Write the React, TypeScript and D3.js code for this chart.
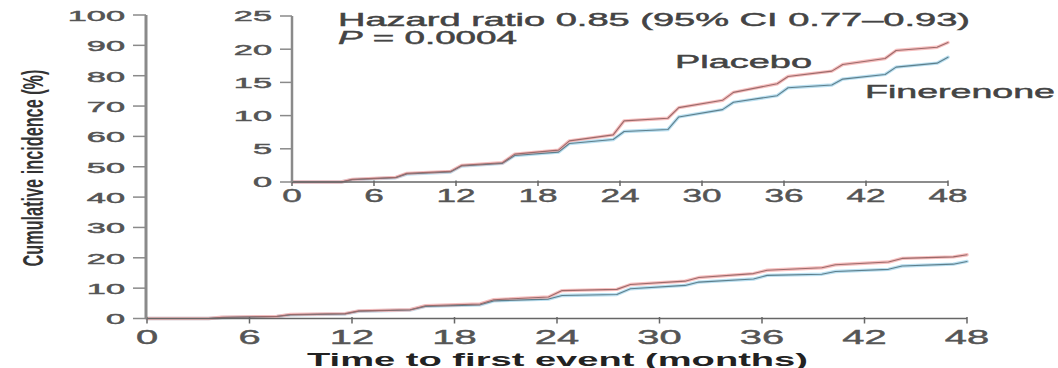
import React from "react";
import * as d3 from "d3";

const monthTicks = [0, 6, 12, 18, 24, 30, 36, 42, 48];
const mainYTicks = [0, 10, 20, 30, 40, 50, 60, 70, 80, 90, 100];
const insetYTicks = [0, 5, 10, 15, 20, 25];

const placeboMonths = [0, 3.6, 4.4, 7.6, 8.4, 11.6, 12.4, 15.4, 16.3, 19.5, 20.3, 23.5, 24.3, 27.5, 28.3, 31.5, 32.3, 35.5, 36.3, 39.5, 40.3, 43.4, 44.2, 47.2, 48];
const placeboValues = [0, 0, 0.4, 0.7, 1.3, 1.6, 2.5, 2.9, 4.2, 4.8, 6.2, 7.1, 9.2, 9.6, 11.2, 12.3, 13.5, 14.8, 15.9, 16.7, 17.7, 18.6, 19.8, 20.3, 21.0];
const finerenoneMonths = [0, 3.6, 4.4, 7.6, 8.4, 11.6, 12.4, 15.4, 16.3, 19.5, 20.3, 23.5, 24.3, 27.5, 28.3, 31.5, 32.3, 35.5, 36.3, 39.5, 40.3, 43.4, 44.2, 47.2, 48];
const finerenoneValues = [0, 0, 0.35, 0.65, 1.2, 1.5, 2.4, 2.8, 4.0, 4.5, 5.8, 6.4, 7.6, 7.9, 9.8, 10.9, 12.0, 13.0, 14.2, 14.6, 15.5, 16.2, 17.3, 17.9, 18.8];

const hazardText = "Hazard ratio 0.85 (95% CI 0.77\u20130.93)";
const pLabel = "P";
const pRest = " = 0.0004";
const placeboLabel = "Placebo";
const finerenoneLabel = "Finerenone";
const xTitle = "Time to first event (months)";
const yTitle = "Cumulative incidence (%)";

const FONT = "'Liberation Sans', Arial, sans-serif";

type Pt = [number, number];
const placeboPts: Pt[] = placeboMonths.map((m, i) => [m, placeboValues[i]]);
const finerenonePts: Pt[] = finerenoneMonths.map((m, i) => [m, finerenoneValues[i]]);

function SText(props: {
  x: number; y: number; sx: number; size: number; anchor?: string;
  fill?: string; weight?: string | number; children: React.ReactNode;
}) {
  const { x, y, sx, size, anchor = "start", fill = "#444", weight = "normal", children } = props;
  return (
    <text
      transform={`translate(${x},${y}) scale(${sx},1)`}
      fontSize={size}
      fontFamily={FONT}
      textAnchor={anchor as any}
      dominantBaseline="central"
      fill={fill}
      stroke={fill}
      strokeWidth={0.45}
      fontWeight={weight as any}
    >
      {children}
    </text>
  );
}

function Lines(props: { x: d3.ScaleLinear<number, number>; y: d3.ScaleLinear<number, number> }) {
  const { x, y } = props;
  const line = d3.line<Pt>().x((d) => x(d[0])).y((d) => y(d[1])).curve(d3.curveLinear);
  return (
    <g fill="none" strokeLinejoin="round" strokeLinecap="round">
      <path d={line(finerenonePts) || ""} stroke="#b3dcee" strokeWidth={3.4} opacity={0.9} />
      <path d={line(placeboPts) || ""} stroke="#f5b8b8" strokeWidth={3.4} opacity={0.9} />
      <path d={line(finerenonePts) || ""} stroke="#5d7f8c" strokeWidth={1.1} />
      <path d={line(placeboPts) || ""} stroke="#9c6a6a" strokeWidth={1.1} />
    </g>
  );
}

export default function App() {
  const W = 1058, H = 368;
  const mx = d3.scaleLinear().domain([0, 48]).range([147, 967]);
  const my = d3.scaleLinear().domain([0, 100]).range([318.5, 15]);
  const ix = d3.scaleLinear().domain([0, 48]).range([292, 948]);
  const iy = d3.scaleLinear().domain([0, 25]).range([182, 16]);

  const axisGray = "#8a8a8a";
  const tickCol = "#555";
  const annoStyle = { stroke: "#444", strokeWidth: 0.45 };

  return (
    <svg
      width={W}
      height={H}
      viewBox={`0 0 ${W} ${H}`}
      style={{ position: "absolute", left: 0, top: 0, background: "#fff" }}
    >
      <rect x={0} y={0} width={W} height={H} fill="#fff" />

      {/* Main chart */}
      <Lines x={mx} y={my} />
      <line x1={mx(0)} x2={mx(48)} y1={my(0)} y2={my(0)} stroke="#666" strokeWidth={1.5} />
      {monthTicks.map((t) => (
        <g key={"mxt" + t}>
          <line x1={mx(t)} x2={mx(t)} y1={my(0) - 1.5} y2={my(0) + 5} stroke="#666" strokeWidth={1.5} />
          <SText x={mx(t)} y={337} sx={1.9} size={21} anchor="middle" fill={tickCol}>{t}</SText>
        </g>
      ))}
      <line x1={mx(0) - 1} x2={mx(0) - 1} y1={my(100)} y2={my(0)} stroke={axisGray} strokeWidth={3} />
      {mainYTicks.map((t) => (
        <g key={"myt" + t}>
          <line x1={133} x2={mx(0) - 1} y1={my(t)} y2={my(t)} stroke={axisGray} strokeWidth={1.5} />
          <SText x={125} y={my(t) + 1} sx={2.45} size={14} anchor="end" fill={tickCol}>{t}</SText>
        </g>
      ))}

      {/* Inset chart */}
      <Lines x={ix} y={iy} />
      <line x1={ix(0)} x2={ix(48)} y1={iy(0)} y2={iy(0)} stroke="#666" strokeWidth={1.5} />
      {monthTicks.map((t) => (
        <g key={"ixt" + t}>
          <line x1={ix(t)} x2={ix(t)} y1={iy(0) - 1.5} y2={iy(0) + 4} stroke="#666" strokeWidth={1.5} />
          <SText x={ix(t)} y={195} sx={1.85} size={19} anchor="middle" fill={tickCol}>{t}</SText>
        </g>
      ))}
      <line x1={ix(0)} x2={ix(0)} y1={iy(25)} y2={iy(0)} stroke={axisGray} strokeWidth={2.5} />
      {insetYTicks.map((t) => (
        <g key={"iyt" + t}>
          <line x1={280} x2={ix(0)} y1={iy(t)} y2={iy(t)} stroke={axisGray} strokeWidth={1.5} />
          <SText x={272} y={iy(t) + 0.5} sx={2.45} size={14} anchor="end" fill={tickCol}>{t}</SText>
        </g>
      ))}

      {/* Annotations */}
      <text x={338} y={20} fontSize={18} fontFamily={FONT} dominantBaseline="central" fill="#444" style={annoStyle}
        textLength={632} lengthAdjust="spacingAndGlyphs">{hazardText}</text>
      <text x={338} y={38} fontSize={18} fontFamily={FONT} dominantBaseline="central" fill="#444" style={annoStyle}
        textLength={179} lengthAdjust="spacingAndGlyphs">
        <tspan fontStyle="italic">{pLabel}</tspan>
        <tspan>{pRest}</tspan>
      </text>
      <text x={675} y={62} fontSize={18} fontFamily={FONT} dominantBaseline="central" fill="#444" style={annoStyle}
        textLength={137} lengthAdjust="spacingAndGlyphs">{placeboLabel}</text>
      <text x={865} y={92} fontSize={18} fontFamily={FONT} dominantBaseline="central" fill="#444" style={annoStyle}
        textLength={190} lengthAdjust="spacingAndGlyphs">{finerenoneLabel}</text>

      {/* Axis titles */}
      <text x={307} y={359} fontSize={19} fontFamily={FONT} fontWeight="bold" dominantBaseline="central" fill="#222"
        textLength={501} lengthAdjust="spacingAndGlyphs">{xTitle}</text>
      <g transform="translate(33,168) rotate(-90) scale(1,1.75)">
        <text x={0} y={0} fontSize={17} fontFamily={FONT} fontWeight="bold" textAnchor="middle" dominantBaseline="central" fill="#333"
          textLength={197} lengthAdjust="spacingAndGlyphs">{yTitle}</text>
      </g>
    </svg>
  );
}
